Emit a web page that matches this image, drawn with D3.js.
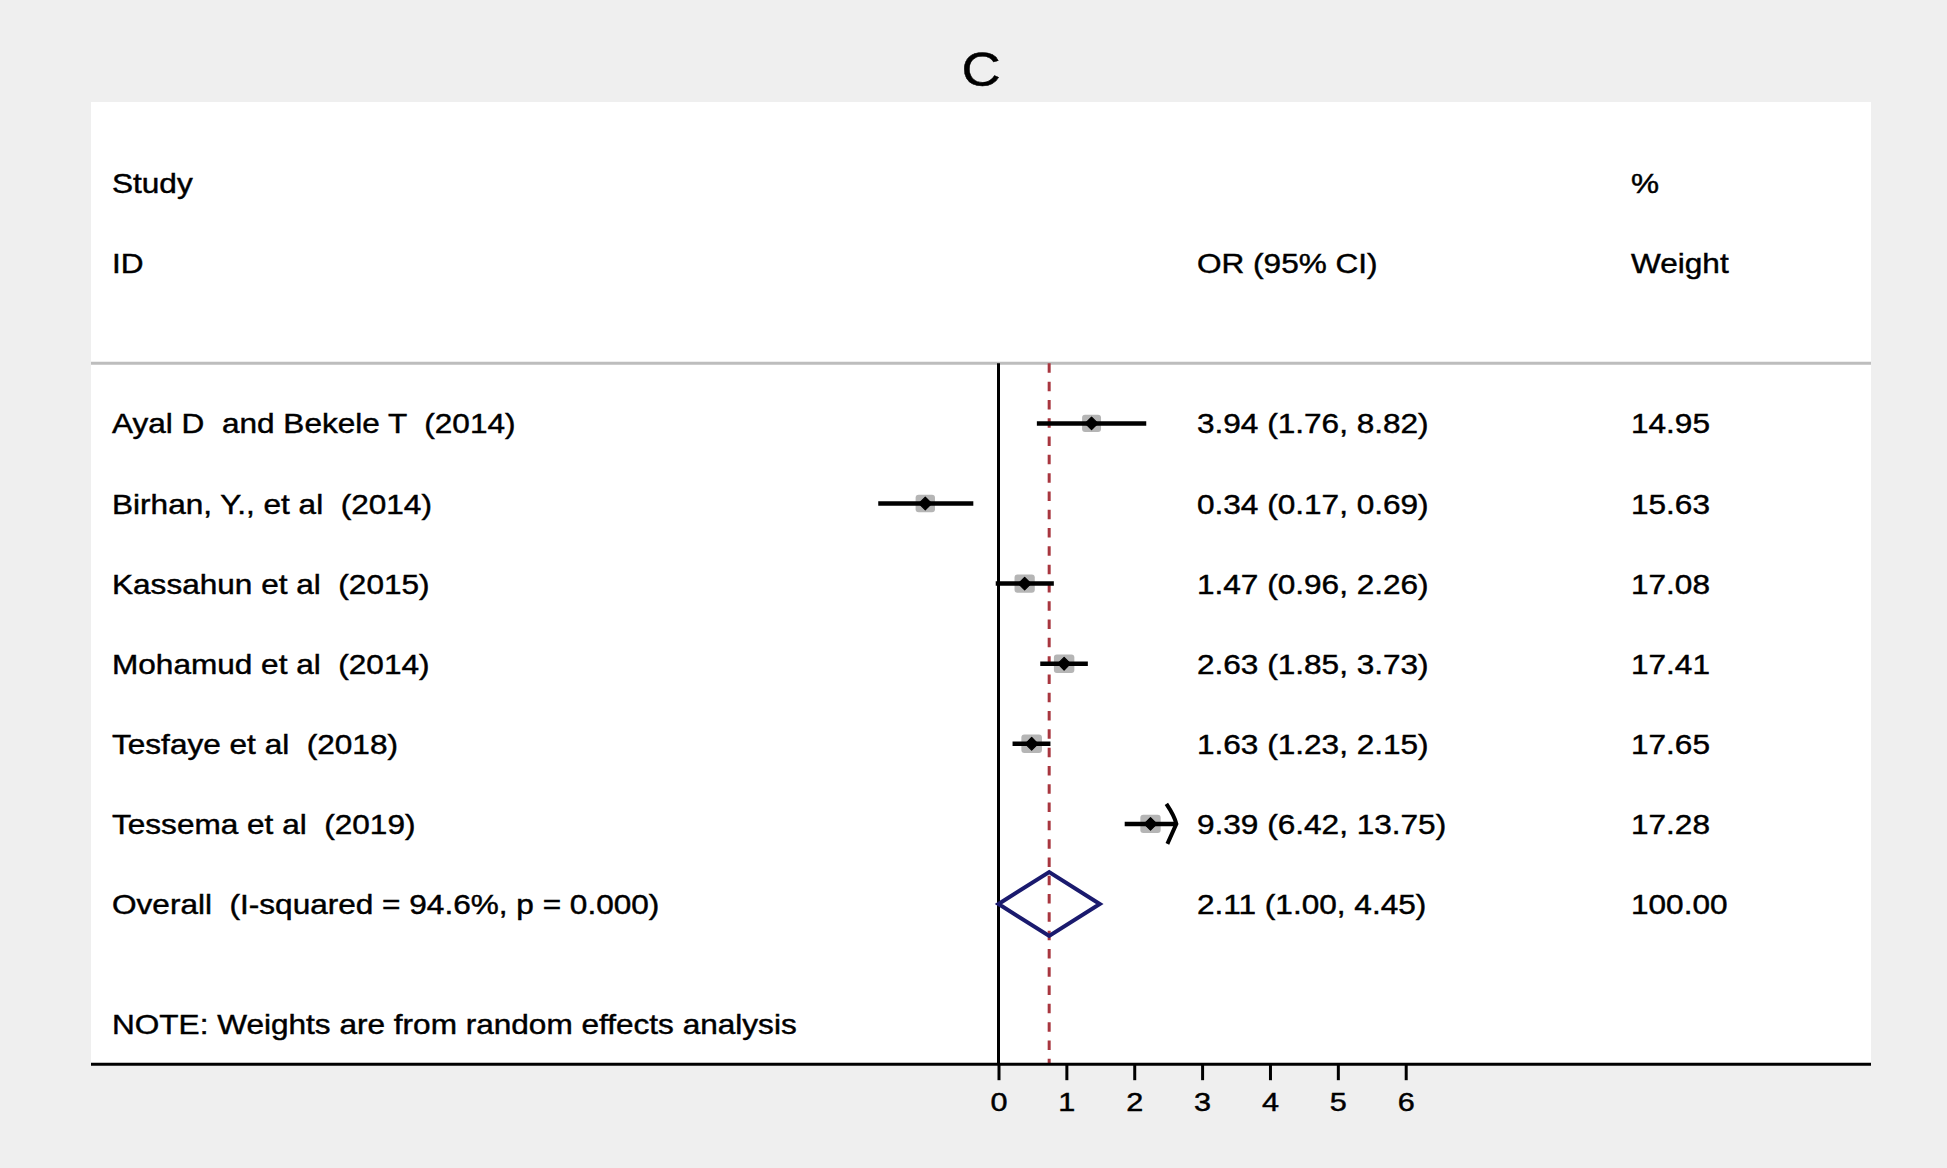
<!DOCTYPE html>
<html>
<head>
<meta charset="utf-8">
<script src="https://cdn.jsdelivr.net/npm/d3@7"></script>
<style>
  html, body { margin: 0; padding: 0; background: #efefef; }
  svg text { font-family: "Liberation Sans", Arial, sans-serif; fill: #000; white-space: pre;
             stroke: #000; stroke-width: 0.45px; }
</style>
</head>
<body>
<div id="chart"></div>
<script>
// data
const studies  = ['Ayal D  and Bekele T  (2014)', 'Birhan, Y., et al  (2014)', 'Kassahun et al  (2015)',
                  'Mohamud et al  (2014)', 'Tesfaye et al  (2018)', 'Tessema et al  (2019)'];
const orVals   = [3.94, 0.34, 1.47, 2.63, 1.63, 9.39];
const ciLow    = [1.76, 0.17, 0.96, 1.85, 1.23, 6.42];
const ciHigh   = [8.82, 0.69, 2.26, 3.73, 2.15, 13.75];
const weights  = [14.95, 15.63, 17.08, 17.41, 17.65, 17.28];

const overallLabel = 'Overall  (I-squared = 94.6%, p = 0.000)';
const overallOR    = 2.11;
const overallLow   = 1.00;
const overallHigh  = 4.45;
const overallW     = 100.00;

const tickVals = [0, 1, 2, 3, 4, 5, 6];
const arrowCut = 10;   // CIs above this get the arrow head

// =============================================
const W = 1947, H = 1168;
const panel = { left: 91, right: 1871, top: 102, bottom: 1064 };

const svg = d3.select('#chart')
  .append('svg')
  .attr('width', W)
  .attr('height', H);

// x: log odds ratio, y: row slots
const x = d3.scaleLinear().domain([0, 6]).range([998.5, 1405.7]);
const y = d3.scaleLinear().domain([0, 11]).range([183.1, 1064.2]);
// row slots: 0 Study, 1 ID, 2.25 rule, 3-8 studies, 9 overall, 10.5 note, 11 axis

const colStudy = 112, colOR = 1197, colW = 1631;
const fs = 28.5;     // text in the source is a little stretched sideways
const sx = 1.108;
const base = 10;

// stretched text helper
function addText(parent, tx, ty, size, str, anchor) {
  return parent.append('text')
    .attr('transform', `translate(${tx},${ty}) scale(${sx},1)`)
    .attr('font-size', size)
    .attr('text-anchor', anchor || 'start')
    .text(str);
}

svg.append('rect')
   .attr('x', panel.left).attr('y', panel.top)
   .attr('width', panel.right - panel.left)
   .attr('height', panel.bottom - panel.top)
   .attr('fill', '#ffffff');

// title
addText(svg, (panel.left + panel.right) / 2, 86, 49, 'C', 'middle');

// header
const hdr = [
  [colStudy, 0, 'Study'], [colStudy, 1, 'ID'],
  [colOR, 1, 'OR (95% CI)'], [colW, 0, '%'], [colW, 1, 'Weight']
];
hdr.forEach(d => addText(svg, d[0], y(d[1]) + base, fs, d[2]));

// grey rule under header
svg.append('line')
   .attr('x1', panel.left).attr('x2', panel.right)
   .attr('y1', y(2.25)).attr('y2', y(2.25))
   .attr('stroke', '#bdbdbd')
   .attr('stroke-width', 3);

// null line at 0
svg.append('line')
   .attr('x1', x(0)).attr('x2', x(0))
   .attr('y1', y(2.25)).attr('y2', y(11))
   .attr('stroke', '#000')
   .attr('stroke-width', 3);

// overall effect dashed line
svg.append('line')
   .attr('x1', x(Math.log(overallOR))).attr('x2', x(Math.log(overallOR)))
   .attr('y1', y(2.25)).attr('y2', y(11))
   .attr('stroke', '#a8363f')
   .attr('stroke-width', 3)
   .attr('stroke-dasharray', '9.5,8.8');

// study rows
const rows = studies.map((s, i) => ({
  name: s, or: orVals[i], lo: ciLow[i], hi: ciHigh[i], w: weights[i], slot: i + 3
}));

const g = svg.selectAll('.row')
  .data(rows)
  .enter()
  .append('g')
  .attr('class', 'row');

const boxK = 4.9;

// weight boxes
g.append('rect')
 .attr('x', d => x(Math.log(d.or)) - boxK * Math.sqrt(d.w) / 2)
 .attr('y', d => y(d.slot) - boxK * Math.sqrt(d.w) * 0.9 / 2)
 .attr('width', d => boxK * Math.sqrt(d.w))
 .attr('height', d => boxK * Math.sqrt(d.w) * 0.9)
 .attr('rx', 3)
 .attr('fill', '#b5b5b5');

// CI lines
g.append('line')
 .attr('x1', d => x(Math.log(d.lo)))
 .attr('x2', d => x(Math.log(d.hi)))
 .attr('y1', d => y(d.slot)).attr('y2', d => y(d.slot))
 .attr('stroke', '#000')
 .attr('stroke-width', 4.5);

// arrow heads for clipped CIs
g.filter(d => d.hi > arrowCut)
 .append('path')
 .attr('d', d => {
   const ax = x(Math.log(d.hi)), ay = y(d.slot);
   return `M${ax - 10},${ay - 20} Q${ax - 2},${ay - 8} ${ax},${ay} L${ax - 9},${ay + 20}`;
 })
 .attr('fill', 'none')
 .attr('stroke', '#000')
 .attr('stroke-width', 4);

// point estimate diamonds
g.append('path')
 .attr('d', d => {
   const px = x(Math.log(d.or)), py = y(d.slot), r = 6.3;
   return `M${px - r},${py} L${px},${py - r} L${px + r},${py} L${px},${py + r} Z`;
 })
 .attr('fill', '#000')
 .attr('stroke', '#000')
 .attr('stroke-width', 1.2)
 .attr('stroke-linejoin', 'round');

// row texts
g.each(function (d) {
  const r = d3.select(this);
  addText(r, colStudy, y(d.slot) + base, fs, d.name);
  addText(r, colOR, y(d.slot) + base, fs,
          `${d.or.toFixed(2)} (${d.lo.toFixed(2)}, ${d.hi.toFixed(2)})`);
  addText(r, colW, y(d.slot) + base, fs, d.w.toFixed(2));
});

// overall diamond
const oy = y(9);
svg.append('path')
   .attr('d', `M${x(Math.log(overallLow))},${oy} L${x(Math.log(overallOR))},${oy - 32} ` +
              `L${x(Math.log(overallHigh))},${oy} L${x(Math.log(overallOR))},${oy + 32} Z`)
   .attr('fill', 'none')
   .attr('stroke', '#1a1a6e')
   .attr('stroke-width', 4)
   .attr('stroke-linejoin', 'miter');

addText(svg, colStudy, oy + base, fs, overallLabel);
addText(svg, colOR, oy + base, fs,
        `${overallOR.toFixed(2)} (${overallLow.toFixed(2)}, ${overallHigh.toFixed(2)})`);
addText(svg, colW, oy + base, fs, overallW.toFixed(2));

// note
addText(svg, colStudy, y(10.5) + base, fs, 'NOTE: Weights are from random effects analysis');

// x axis
const axisG = svg.append('g')
  .attr('transform', `translate(0,${y(11)})`);

axisG.append('line')
     .attr('x1', panel.left).attr('x2', panel.right)
     .attr('stroke', '#000')
     .attr('stroke-width', 3);

axisG.call(d3.axisBottom(x).tickValues(tickVals).tickSize(16).tickPadding(12).tickFormat(d3.format('d')))
     .call(a => a.select('.domain').remove())
     .call(a => a.selectAll('.tick line').attr('stroke', '#000').attr('stroke-width', 3))
     .call(a => a.selectAll('.tick text')
                 .attr('font-size', 25.5)
                 .attr('dy', null)
                 .attr('y', 47)
                 .attr('transform', 'scale(1.2,1)')
                 .attr('font-family', '"Liberation Sans", Arial, sans-serif')
                 .attr('fill', '#000'));
</script>
</body>
</html>
